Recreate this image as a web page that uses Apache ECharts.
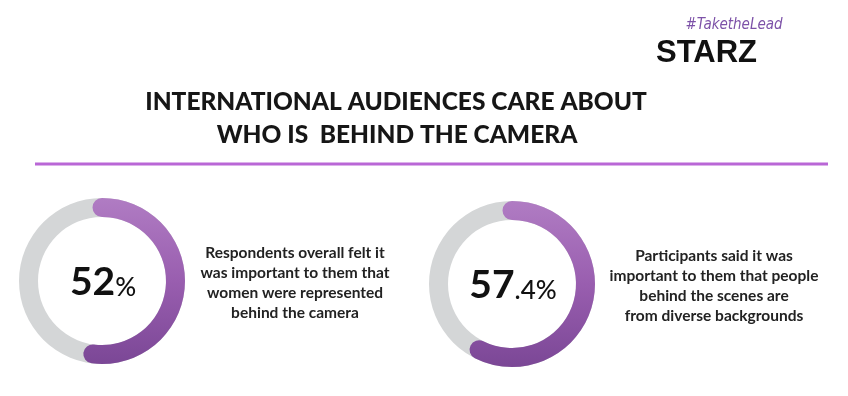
<!DOCTYPE html>
<html><head><meta charset="utf-8">
<script src="https://cdn.jsdelivr.net/npm/echarts@6/dist/echarts.min.js"></script>
<style>html,body{margin:0;padding:0;background:#fff}#c{width:848px;height:396px}</style>
</head><body><div id="c"></div>
<script>
// ---- data ----
const titleLines = ['INTERNATIONAL AUDIENCES CARE ABOUT', 'WHO IS  BEHIND THE CAMERA'];
const brandTag = '#TaketheLead';
const brandName = 'STARZ';
const shareValues = [52, 57.4];
const shareWhole = ['52', '57'];
const shareRest = ['%', '.4%'];
const statements = [
  ['Respondents overall felt it', 'was important to them that', 'women were represented', 'behind the camera'],
  ['Participants said it was', 'important to them that people', 'behind the scenes are', 'from diverse backgrounds']
];

// ---- layout / style ----
const centers = [[102, 281], [512, 284]];
const descPos = [[295, 283], [714, 286]];
const grey = '#d4d6d7';
const purpleGrad = () => new echarts.graphic.LinearGradient(0, 0, 0, 1, [
  {offset: 0, color: '#b07cc3'},
  {offset: 0.5, color: '#995eaf'},
  {offset: 1, color: '#7b4796'}
]);

const polar = [], angleAxis = [], radiusAxis = [], series = [];
shareValues.forEach((v, i) => {
  polar.push({center: centers[i], radius: [64, 83]});
  angleAxis.push({polarIndex: i, type: 'value', min: 0, max: 100, startAngle: 90, clockwise: true, show: false});
  radiusAxis.push({polarIndex: i, type: 'category', data: ['share'], show: false});
  series.push({
    type: 'bar', coordinateSystem: 'polar', polarIndex: i, data: [100],
    barCategoryGap: '0%', barGap: '-100%', silent: true, z: 1,
    itemStyle: {color: grey}
  });
  series.push({
    type: 'bar', coordinateSystem: 'polar', polarIndex: i, data: [v],
    barCategoryGap: '0%', barGap: '-100%', roundCap: true, silent: true, z: 2,
    itemStyle: {color: purpleGrad()}
  });
});

const graphic = [
  {type: 'text', x: 396, y: 102, style: {text: titleLines[0], align: 'center', verticalAlign: 'middle',
    font: '900 24.5px Lato', fill: '#161616'}},
  {type: 'text', x: 397, y: 135, style: {text: titleLines[1], align: 'center', verticalAlign: 'middle',
    font: '900 24.5px Lato', fill: '#161616'}},
  {type: 'line', shape: {x1: 35, y1: 164, x2: 828, y2: 164}, style: {stroke: '#b967d6', lineWidth: 3}},
  {type: 'text', x: 734, y: 25, style: {text: brandTag, align: 'center', verticalAlign: 'middle',
    font: 'italic 15px "Liberation Sans Narrow", "DejaVu Sans Condensed", sans-serif', fill: '#7d52a8'}},
  {type: 'text', x: 656, y: 53, style: {text: brandName, align: 'left', verticalAlign: 'middle',
    font: 'bold 31px "Liberation Sans", Arial, sans-serif', fill: '#111'}}
];
shareValues.forEach((v, i) => {
  graphic.push({type: 'text', x: centers[i][0] + 1, y: centers[i][1] + 1, style: {
    text: '{a|' + shareWhole[i] + '}{b|' + shareRest[i] + '}', align: 'center', verticalAlign: 'middle',
    rich: {
      a: {font: 'bold 39px Lato', fill: '#111', verticalAlign: 'bottom'},
      b: {font: '500 26px Lato', fill: '#111', verticalAlign: 'bottom', padding: [0, 0, 1, 0]}
    }
  }});
  graphic.push({type: 'text', x: descPos[i][0], y: descPos[i][1], style: {
    text: statements[i].join('\n'), align: 'center', verticalAlign: 'middle',
    font: 'bold 15.5px Lato', lineHeight: 20, fill: '#222'
  }});
});

const chart = echarts.init(document.getElementById('c'), null, {renderer: 'canvas'});
chart.setOption({
  backgroundColor: '#ffffff',
  animation: false,
  polar, angleAxis, radiusAxis, series, graphic
});
</script>
</body></html>
